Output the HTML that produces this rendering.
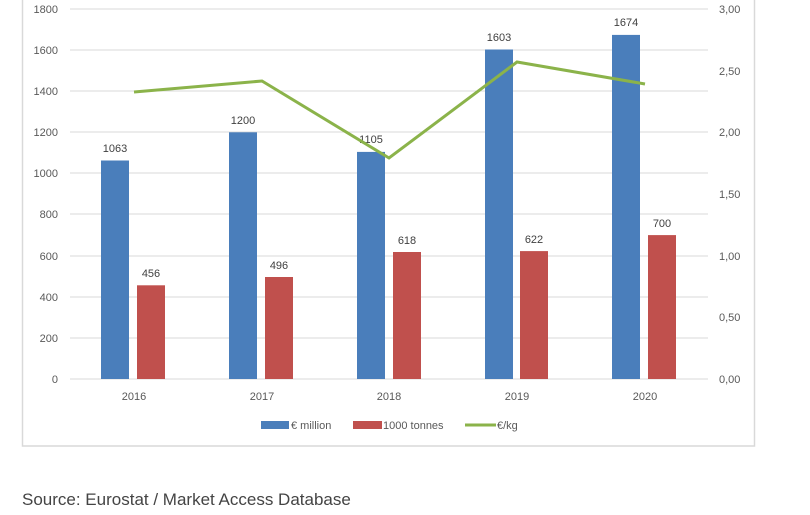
<!DOCTYPE html>
<html><head><meta charset="utf-8"><style>
html,body{margin:0;padding:0;background:#fff;width:810px;height:515px;overflow:hidden}
svg{display:block}
</style></head><body>
<svg width="810" height="515" xmlns="http://www.w3.org/2000/svg" font-family="Liberation Sans, sans-serif">
<rect x="22.5" y="-5" width="732" height="451" fill="#fff" stroke="#d9d9d9" stroke-width="1.5"/>
<g stroke="#d9d9d9" stroke-width="1">
<line x1="70" x2="708" y1="9" y2="9"/><line x1="70" x2="708" y1="50" y2="50"/>
<line x1="70" x2="708" y1="91" y2="91"/><line x1="70" x2="708" y1="132" y2="132"/>
<line x1="70" x2="708" y1="173" y2="173"/><line x1="70" x2="708" y1="214" y2="214"/>
<line x1="70" x2="708" y1="256" y2="256"/><line x1="70" x2="708" y1="297" y2="297"/>
<line x1="70" x2="708" y1="338" y2="338"/><line x1="70" x2="708" y1="379" y2="379"/>
</g>
<g font-size="11" fill="#595959" text-anchor="end">
<text x="58" y="13">1800</text><text x="58" y="54">1600</text><text x="58" y="95">1400</text>
<text x="58" y="136">1200</text><text x="58" y="177">1000</text><text x="58" y="218">800</text>
<text x="58" y="260">600</text><text x="58" y="301">400</text><text x="58" y="342">200</text>
<text x="58" y="383">0</text>
</g>
<g font-size="11" fill="#595959" text-anchor="start">
<text x="719" y="13">3,00</text><text x="719" y="75">2,50</text><text x="719" y="136">2,00</text>
<text x="719" y="198">1,50</text><text x="719" y="260">1,00</text><text x="719" y="321">0,50</text>
<text x="719" y="383">0,00</text>
</g>
<g fill="#4a7ebb">
<rect x="101" y="160.5" width="28" height="218.5"/>
<rect x="229" y="132.3" width="28" height="246.7"/>
<rect x="357" y="151.9" width="28" height="227.1"/>
<rect x="485" y="49.5" width="28" height="329.5"/>
<rect x="612" y="34.9" width="28" height="344.1"/>
</g>
<g fill="#c0504d">
<rect x="137" y="285.3" width="28" height="93.7"/>
<rect x="265" y="277" width="28" height="102"/>
<rect x="393" y="252" width="28" height="127"/>
<rect x="520" y="251.1" width="28" height="127.9"/>
<rect x="648" y="235.1" width="28" height="143.9"/>
</g>
<g font-size="11" fill="#404040" text-anchor="middle">
<text x="115" y="152">1063</text><text x="243" y="124">1200</text><text x="371" y="143">1105</text>
<text x="499" y="41">1603</text><text x="626" y="26">1674</text>
<text x="151" y="277">456</text><text x="279" y="269">496</text><text x="407" y="244">618</text>
<text x="534" y="243">622</text><text x="662" y="227">700</text>
</g>
<polyline points="134,92 262,81 389,158 517,62 645,84" fill="none" stroke="#8bb34a" stroke-width="3"/>
<g font-size="11" fill="#595959" text-anchor="middle">
<text x="134" y="400">2016</text><text x="262" y="400">2017</text><text x="389" y="400">2018</text>
<text x="517" y="400">2019</text><text x="645" y="400">2020</text>
</g>
<rect x="261" y="421" width="28" height="8" fill="#4a7ebb"/>
<text x="291" y="429" font-size="11" fill="#595959">€ million</text>
<rect x="353" y="421" width="29" height="8" fill="#c0504d"/>
<text x="383" y="429" font-size="11" fill="#595959">1000 tonnes</text>
<line x1="465" x2="496" y1="425" y2="425" stroke="#8bb34a" stroke-width="3"/>
<text x="497" y="429" font-size="11" fill="#595959">€/kg</text>
<text x="22" y="505" font-size="17" fill="#444">Source: Eurostat / Market Access Database</text>
</svg>
</body></html>
